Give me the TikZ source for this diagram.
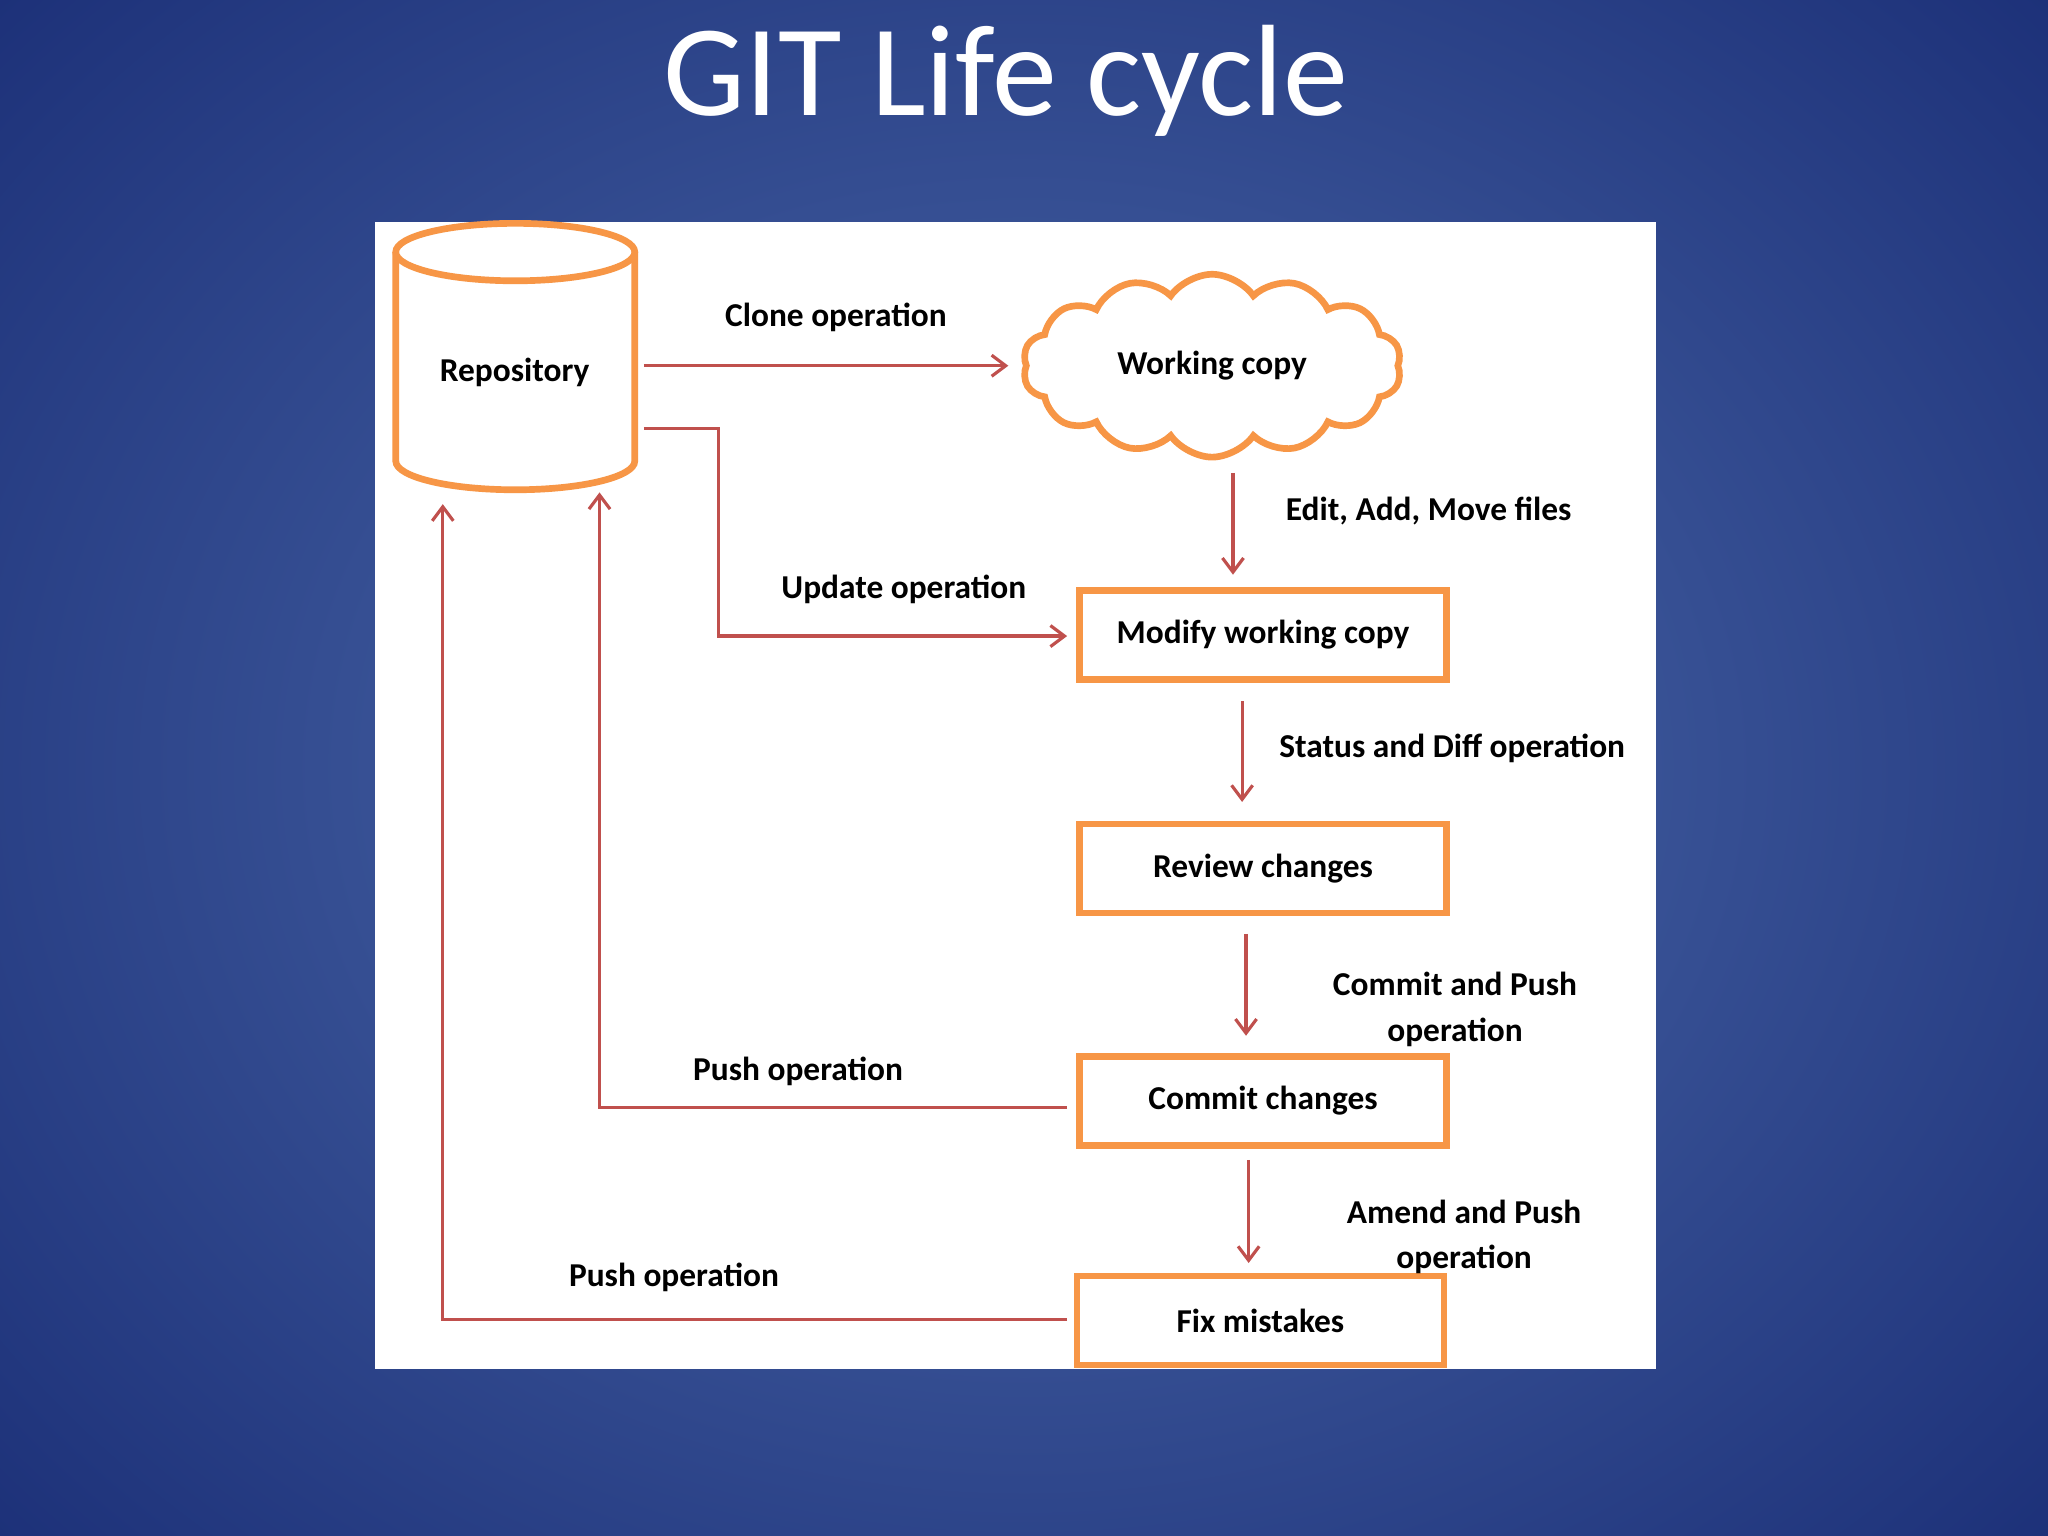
\documentclass[tikz,border=0pt]{standalone}
\usepackage{fontspec}
\setmainfont{Carlito}
\usetikzlibrary{shapes.symbols,arrows.meta}
\definecolor{og}{HTML}{F79646}
\definecolor{rd}{HTML}{C0504D}
\begin{document}
\begin{tikzpicture}[x=0.01306cm,y=-0.01306cm,
 box/.style={draw=og,line width=1.9pt,fill=white,minimum width=281*0.01306cm,minimum height=68*0.01306cm,font=\bfseries\fontsize{9.5}{11}\selectfont},
 lab/.style={font=\bfseries\fontsize{9.5}{13}\selectfont,align=center},
 con/.style={draw=rd,line width=0.9pt,-{Straight Barb[length=4pt,width=6pt]}}]
\useasboundingbox (0,0) rectangle (1568,1176);
\shade[inner color={rgb,255:red,78;green,108;blue,172},outer color={rgb,255:red,28;green,48;blue,120}] (-300,-300) rectangle (1868,1476);
\node[text=white,font=\fontsize{37}{40}\selectfont] (title) at (770,62) {GIT Life cycle};
\fill[white] (287,170) rectangle (1268,1048);
% cylinder
\draw[og,line width=1.9pt,fill=white] (303,193) -- (303,353) arc[start angle=180,end angle=0,x radius=91.5,y radius=22] -- (486,193);
\draw[og,line width=1.9pt,fill=white] (394.5,193) ellipse[x radius=91.5,y radius=22];
\node[lab] (repo) at (394,285) {Repository};
\node[cloud,cloud puffs=14,cloud puff arc=110,aspect=2.1,draw=og,line width=1.9pt,fill=white,minimum width=290*0.01306cm,minimum height=140*0.01306cm,font=\bfseries\fontsize{9.5}{11}\selectfont] (wc) at (928,280) {Working copy};
\node[box] (mod) at (967,486) {Modify working copy};
\node[box] (rev) at (967,665) {Review changes};
\node[box] (com) at (967,843) {Commit changes};
\node[box] (fix) at (965,1011) {Fix mistakes};
\coordinate (c1) at (493,280); \coordinate (c1e) at (772,280);
\coordinate (u1) at (493,328); \coordinate (u1e) at (817,487);
\coordinate (e1) at (944,362); \coordinate (e1e) at (944,440);
\coordinate (s1) at (951,537); \coordinate (s1e) at (951,614);
\coordinate (p1) at (954,715); \coordinate (p1e) at (954,793);
\coordinate (a1) at (956,888); \coordinate (a1e) at (956,967);
\coordinate (q1) at (817,848); \coordinate (q1e) at (459,377);
\coordinate (r1) at (817,1010); \coordinate (r1e) at (339,386);
\draw[con] (c1) -- (c1e);
\draw[con] (u1) -- (550,328) -- (550,487) -- (u1e);
\draw[con] (e1) -- (e1e);
\draw[con] (s1) -- (s1e);
\draw[con] (p1) -- (p1e);
\draw[con] (a1) -- (a1e);
\draw[con] (q1) -- (459,848) -- (q1e);
\draw[con] (r1) -- (339,1010) -- (r1e);
\node[lab] (l1) at (640,243) {Clone operation};
\node[lab] (l2) at (692,451) {Update operation};
\node[lab,anchor=west] (l3) at (975,391) {Edit, Add, Move files};
\node[lab,anchor=west] (l4) at (970,573) {Status and Diff operation};
\node[lab] (l5) at (1114,773) {Commit and Push\\operation};
\node[lab] (l6) at (1121,947) {Amend and Push\\operation};
\node[lab] (l7) at (611,820) {Push operation};
\node[lab] (l8) at (516,978) {Push operation};
\end{tikzpicture}
\end{document}
